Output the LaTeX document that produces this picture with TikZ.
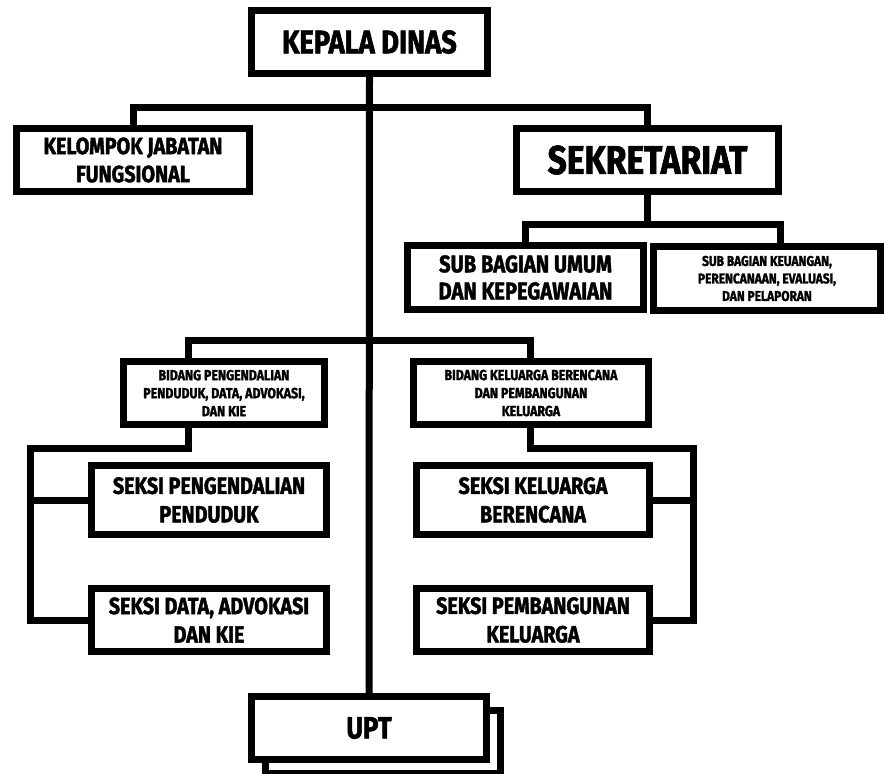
\documentclass[tikz,border=0pt]{standalone}
\usepackage{fontspec}
\setmainfont{Fira Sans}[FakeStretch=0.84, BoldFeatures={FakeBold=1.7}]
\begin{document}
\begin{tikzpicture}[x=1pt,y=-1pt,
  box/.style={draw, line width=7pt, fill=white, inner sep=0pt, align=center},
  conn/.style={line width=7pt, line join=miter},
  fkd/.style={font=\fontsize{32.5}{36}\selectfont\bfseries},
  fsek/.style={font=\fontsize{40}{42}\selectfont\bfseries},
  fupt/.style={font=\fontsize{30.5}{34}\selectfont\bfseries},
  fbig/.style={font=\fontsize{23.5}{28}\selectfont\bfseries},
  fseksi/.style={font=\fontsize{23.5}{28.5}\selectfont\bfseries},
  fmid/.style={font=\fontsize{24}{27}\selectfont\bfseries},
  fsmall/.style={font=\fontsize{14.2}{17.5}\selectfont\bfseries},
  fbid/.style={font=\fontsize{14.7}{18}\selectfont\bfseries}]
\useasboundingbox (0,0) rectangle (884,774);
% boxes
\node[box,fkd,minimum width=236pt,minimum height=63pt] (kd) at (369.5,42) {KEPALA DINAS};
\node[box,fbig,minimum width=233pt,minimum height=63pt] (kjf) at (133,160) {KELOMPOK JABATAN\\FUNGSIONAL};
\node[box,fsek,minimum width=262pt,minimum height=63pt] (sek) at (647.5,160) {SEKRETARIAT};
\node[box,fmid,minimum width=236pt,minimum height=64pt] (sbu) at (525.5,277.5) {SUB BAGIAN UMUM\\DAN KEPEGAWAIAN};
\node[box,fsmall,minimum width=227pt,minimum height=64pt] (sbk) at (767,278.5) {SUB BAGIAN KEUANGAN,\\PERENCANAAN, EVALUASI,\\DAN PELAPORAN};
\node[box,fbid,minimum width=201pt,minimum height=63pt] (bpd) at (224,393) {BIDANG PENGENDALIAN\\PENDUDUK, DATA, ADVOKASI,\\DAN KIE};
\node[box,fbid,minimum width=235pt,minimum height=63pt] (bkb) at (531,393) {BIDANG KELUARGA BERENCANA\\DAN PEMBANGUNAN\\KELUARGA};
\node[box,fseksi,minimum width=235pt,minimum height=69pt] (spp) at (209,500) {SEKSI PENGENDALIAN\\PENDUDUK};
\node[box,fseksi,minimum width=235pt,minimum height=63pt] (sda) at (209,620) {SEKSI DATA, ADVOKASI\\DAN KIE};
\node[box,fseksi,minimum width=233pt,minimum height=69pt] (skb) at (533,500) {SEKSI KELUARGA\\BERENCANA};
\node[box,fseksi,minimum width=233pt,minimum height=63pt] (spk) at (533,620) {SEKSI PEMBANGUNAN\\KELUARGA};
\node[box,minimum width=235pt,minimum height=63pt] (uptb) at (383,742) {};
\node[box,fupt,minimum width=235pt,minimum height=63pt] (upt) at (369,728) {UPT};
% connector anchor points
\coordinate (h1) at (0,107);
\coordinate (h2) at (0,224);
\coordinate (h3) at (0,340);
\coordinate (lb) at (30,448);
\coordinate (rb) at (693,448);
% connectors
\draw[conn] (kd.south) -- (upt.north);
\draw[conn] (kjf.north) -- (kjf.north |- h1) -- (sek.north |- h1) -- (sek.north);
\draw[conn] (sek.south) -- (sek.south |- h2);
\draw[conn] (sbu.north) -- (sbu.north |- h2) -- ([xshift=13pt]sbk.north |- h2) -- ([xshift=13pt]sbk.north);
\draw[conn] ([xshift=-36pt]bpd.north) -- ([xshift=-36pt]bpd.north |- h3) -- ([xshift=-1pt]bkb.north |- h3) -- ([xshift=-1pt]bkb.north);
\draw[conn] ([xshift=-36pt]bpd.south) -- ([xshift=-36pt]bpd.south |- lb) -- (lb) -- (lb |- sda.west) -- (sda.west);
\draw[conn] (spp.west) -- (spp.west -| lb);
\draw[conn] ([xshift=-1pt]bkb.south) -- ([xshift=-1pt]bkb.south |- rb) -- (rb) -- (rb |- spk.east) -- (spk.east);
\draw[conn] (skb.east) -- (skb.east -| rb);
\end{tikzpicture}
\end{document}
